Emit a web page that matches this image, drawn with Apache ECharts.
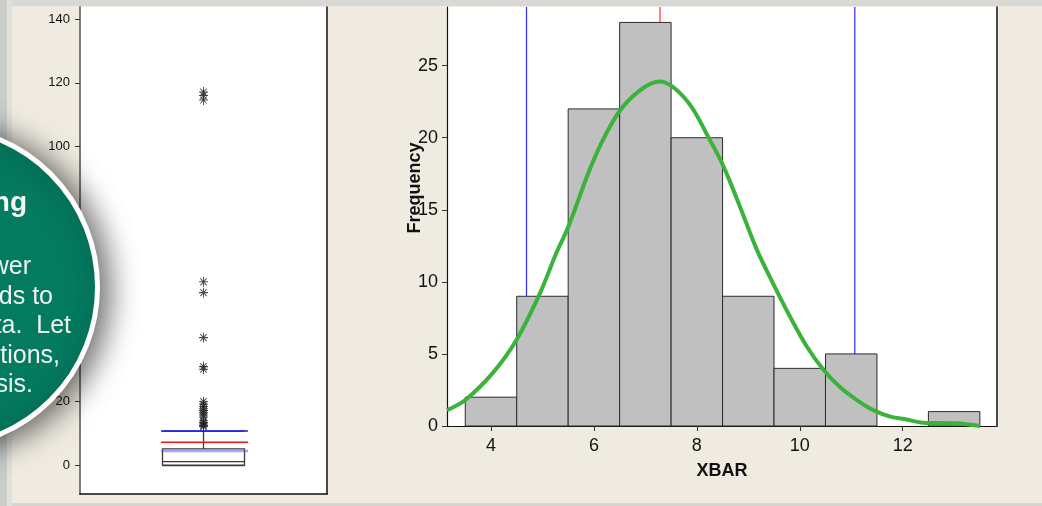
<!DOCTYPE html>
<html>
<head>
<meta charset="utf-8">
<script src="https://cdn.jsdelivr.net/npm/echarts@6/dist/echarts.min.js"></script>
<style>
html,body{margin:0;padding:0;background:#efebe1;}
#chart{width:1042px;height:506px;}
</style>
</head>
<body>
<div id="chart"></div>
<script>
// ---- Box plot (left panel) ----
const boxCategories = ['XBAR'];
const boxStats = [0, 0.1, 1.2, 5.2, 10.8];           // min, Q1, median, Q3, whisker max
const boxOutliers = [117.1, 116.0, 114.6, 57.6, 54.2, 40.1, 31.0, 30.2,
  20.0, 19.2, 18.5, 17.8, 17.2, 16.5, 15.8, 15.2, 14.0, 13.5, 13.0, 12.5, 12.2];
const boxRefBlue = 10.8;
const boxRefRed = 7.3;
const boxRefLightBlue = 4.55;
const boxYTicks = [0, 20, 40, 60, 80, 100, 120, 140];

// ---- Histogram (right panel) ----
const binStarts = [3.5, 4.5, 5.5, 6.5, 7.5, 8.5, 9.5, 10.5, 11.5, 12.5];
const binEnds   = [4.5, 5.5, 6.5, 7.5, 8.5, 9.5, 10.5, 11.5, 12.5, 13.5];
const binCounts = [2, 9, 22, 28, 20, 9, 4, 5, 0, 1];
const specLimits = [4.69, 11.07];
const meanValue = 7.285;
const curveX = [3.145, 3.5, 4.04, 4.5, 4.95, 5.27, 5.5, 6.0, 6.47, 6.9, 7.28, 7.8, 8.26, 8.52, 8.84, 9.17, 9.48, 9.81, 10.14, 10.46, 10.78, 11.11, 11.43, 11.76, 12.08, 12.4, 13.05, 13.5];
const curveY = [1.1, 1.8, 3.7, 6.0, 9.2, 12.0, 13.8, 18.5, 21.7, 23.3, 23.9, 22.6, 19.8, 18.0, 15.2, 12.2, 9.9, 7.6, 5.5, 3.9, 2.7, 1.8, 1.1, 0.65, 0.45, 0.23, 0.19, 0.0];
const histXTicks = [4, 6, 8, 10, 12];
const histYTicks = [0, 5, 10, 15, 20, 25];

// ---- Callout text ----
const calloutTitle = 'ng';
const calloutLines = ['wer', 'ds to', 'ta.  Let', 'otions,', 'sis.'];
const calloutLineEnds = [31, 53, 71, 60, 33];

const boxYMin = -8.94, boxYMax = 143.76;
const histXMin = 3.145, histXMax = 13.833, histYMin = 0, histYMax = 29.07;

const chart = echarts.init(document.getElementById('chart'), null, {renderer: 'canvas'});

const asterisk = 'path://M5,0L5,10M0,5L10,5M1.5,1.5L8.5,8.5M1.5,8.5L8.5,1.5';

const series = [];

series.push({
  type: 'boxplot', xAxisIndex: 0, yAxisIndex: 0,
  data: [boxStats],
  boxWidth: [82, 82],
  itemStyle: {color: '#ffffff', borderColor: '#3a3a3a', borderWidth: 1.3},
  silent: true, z: 3
});
series.push({
  type: 'scatter', xAxisIndex: 0, yAxisIndex: 0,
  data: boxOutliers.map(v => [0, v]),
  symbol: asterisk, symbolSize: [9, 10],
  itemStyle: {color: 'none', borderColor: '#202020', borderWidth: 1},
  silent: true, z: 4
});
[[boxRefBlue, '#1414ff', 1.6, 1], [boxRefRed, '#ff1010', 1.6, 1], [boxRefLightBlue, '#5a5aff', 2.5, 0.55]].forEach(([v, c, w, o]) => {
  series.push({
    type: 'line', xAxisIndex: 1, yAxisIndex: 0,
    data: [[0.328, v], [0.68, v]],
    symbol: 'none', silent: true, z: 5,
    lineStyle: {color: c, width: w, opacity: o}
  });
});

// histogram vertical reference lines (behind bars)
specLimits.forEach(x => {
  series.push({
    type: 'line', xAxisIndex: 2, yAxisIndex: 2,
    data: [[x, histYMin], [x, histYMax]],
    symbol: 'none', silent: true, z: 1,
    lineStyle: {color: '#2a2aff', width: 1.2}
  });
});
series.push({
  type: 'line', xAxisIndex: 2, yAxisIndex: 2,
  data: [[meanValue, histYMin], [meanValue, histYMax]],
  symbol: 'none', silent: true, z: 1,
  lineStyle: {color: '#ff3030', width: 1.2}
});

series.push({
  type: 'custom', xAxisIndex: 2, yAxisIndex: 2,
  data: binCounts.map((c, i) => [binStarts[i], binEnds[i], c]),
  encode: {x: [0, 1], y: 2},
  silent: true, z: 2,
  renderItem: function (params, api) {
    const c = api.value(2);
    if (c <= 0) return null;
    const p0 = api.coord([api.value(0), c]);
    const p1 = api.coord([api.value(1), 0]);
    return {
      type: 'rect',
      shape: {x: p0[0], y: p0[1], width: p1[0] - p0[0], height: p1[1] - p0[1]},
      style: {fill: '#c0c0c0', stroke: '#2b2b2b', lineWidth: 1}
    };
  }
});

series.push({
  type: 'line', xAxisIndex: 2, yAxisIndex: 2,
  data: curveX.map((x, i) => [x, curveY[i]]),
  smooth: 0.35, symbol: 'none', silent: true, z: 6,
  lineStyle: {color: '#3bb23b', width: 4}
});

const option = {
  animation: false,
  backgroundColor: '#efebe1',
  grid: [
    {left: 80, top: 7, right: 715, bottom: 12, show: true, backgroundColor: '#ffffff', borderWidth: 0},
    {left: 447, top: 7, right: 45, bottom: 80, show: true, backgroundColor: '#ffffff', borderWidth: 0}
  ],
  xAxis: [
    {type: 'category', gridIndex: 0, data: boxCategories, position: 'bottom',
      axisLine: {show: true, onZero: false, lineStyle: {color: '#111', width: 1.5}},
      axisTick: {show: false}, axisLabel: {show: false}, splitLine: {show: false}},
    {type: 'value', gridIndex: 0, min: 0, max: 1, show: false},
    {type: 'value', gridIndex: 1, min: histXMin, max: histXMax,
      name: 'XBAR', nameLocation: 'middle', nameGap: 36,
      nameTextStyle: {fontFamily: 'Liberation Sans', fontWeight: 'bold', fontSize: 18, color: '#111'},
      axisLine: {show: true, onZero: false, lineStyle: {color: '#111', width: 1.2}},
      axisTick: {show: true, length: 5, customValues: histXTicks, lineStyle: {color: '#333'}},
      axisLabel: {customValues: histXTicks, margin: 11, fontFamily: 'Liberation Sans', fontSize: 18, color: '#111'},
      splitLine: {show: false}}
  ],
  yAxis: [
    {type: 'value', gridIndex: 0, min: boxYMin, max: boxYMax, position: 'left',
      axisLine: {show: true, onZero: false, lineStyle: {color: '#7a7a7a', width: 2}},
      axisTick: {show: true, length: 5, customValues: boxYTicks, lineStyle: {color: '#333'}},
      axisLabel: {customValues: boxYTicks, margin: 10, fontFamily: 'Liberation Sans', fontSize: 13, color: '#111'},
      splitLine: {show: false}},
    {type: 'value', gridIndex: 0, min: boxYMin, max: boxYMax, position: 'right',
      axisLine: {show: true, onZero: false, lineStyle: {color: '#111', width: 1.5}},
      axisTick: {show: false}, axisLabel: {show: false}, splitLine: {show: false}},
    {type: 'value', gridIndex: 1, min: histYMin, max: histYMax, position: 'left',
      axisLine: {show: true, onZero: false, lineStyle: {color: '#111', width: 1.2}},
      axisTick: {show: true, length: 5, customValues: histYTicks, lineStyle: {color: '#333'}},
      axisLabel: {customValues: histYTicks, margin: 9, fontFamily: 'Liberation Sans', fontSize: 18, color: '#111'},
      splitLine: {show: false}},
    {type: 'value', gridIndex: 1, min: histYMin, max: histYMax, position: 'right',
      axisLine: {show: true, onZero: false, lineStyle: {color: '#111', width: 1.5}},
      axisTick: {show: false}, axisLabel: {show: false}, splitLine: {show: false}}
  ],
  graphic: [
    {type: 'rect', z: -10, shape: {x: 0, y: 0, width: 1042, height: 6}, style: {fill: '#d8d9d4'}},
    {type: 'rect', z: -10, shape: {x: 0, y: 503, width: 1042, height: 3}, style: {fill: '#d6d6d1'}},
    {type: 'rect', z: -10, shape: {x: 0, y: 0, width: 7, height: 506}, style: {fill: '#cbcec8'}},
    {type: 'rect', z: -10, shape: {x: 7, y: 0, width: 5, height: 506}, style: {fill: '#dfe1dc'}},
    {type: 'text', z: 10, x: 415, y: 188, rotation: Math.PI / 2,
      style: {text: 'Frequency', fontFamily: 'Liberation Sans', fontWeight: 'bold', fontSize: 18,
        fill: '#111', align: 'center', verticalAlign: 'middle'}},
    {type: 'circle', z: 100, shape: {cx: -62.5, cy: 287, r: 160},
      style: {fill: '#047a5f', stroke: '#ffffff', lineWidth: 5,
        shadowBlur: 30, shadowOffsetX: 8, shadowOffsetY: 3, shadowColor: 'rgba(0,0,0,0.6)'}},
    {type: 'text', z: 101, x: 27, y: 189,
      style: {text: calloutTitle, fontFamily: "'Liberation Sans Narrow', 'Liberation Sans'", fontWeight: 'bold',
        fontSize: 28, fill: '#f2f7f4', align: 'right', verticalAlign: 'alphabetic'}}
  ].concat(calloutLines.map((t, i) => ({
    type: 'text', z: 101, x: calloutLineEnds[i], y: 255 + i * 29.5,
    style: {text: t, fontFamily: 'Liberation Sans', fontSize: 25, fill: '#eef5f1',
      align: 'right', verticalAlign: 'alphabetic'}
  }))),
  series: series
};

chart.setOption(option);
</script>
</body>
</html>
